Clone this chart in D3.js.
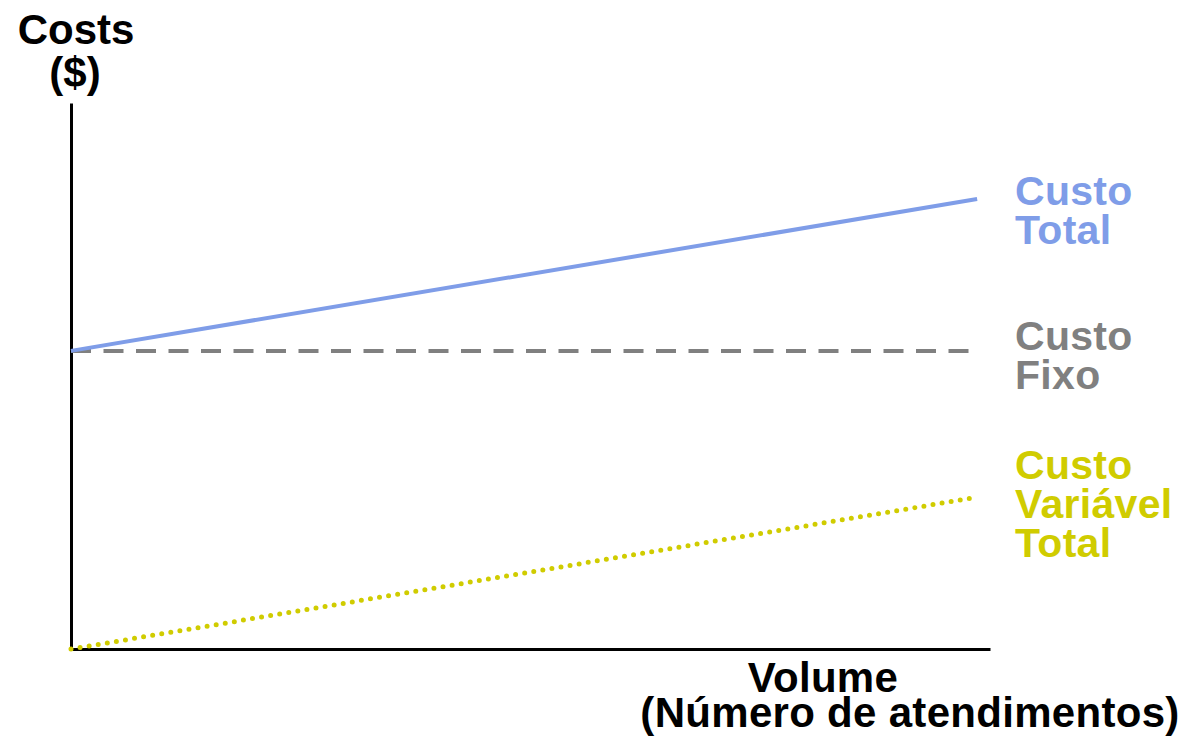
<!DOCTYPE html>
<html><head><meta charset="utf-8">
<script src="https://cdn.jsdelivr.net/npm/d3@7"></script>
<style>html,body{margin:0;padding:0;background:#fff;}svg{display:block;font-family:"Liberation Sans",Arial,sans-serif;font-weight:bold;}</style>
</head><body>
<svg id="c" width="1186" height="737"></svg>
<script>
const volume = [0, 98.6];
const fixedCost = [54.6, 54.6];
const variableCost = [0, 27.8];
const totalCost = [54.6, 82.4];
const seriesNames = [["Custo","Total"],["Custo","Fixo"],["Custo","Variável","Total"]];
const yTitle = ["Costs","($)"];
const xTitle = ["Volume","(Número de atendimentos)"];

const svg = d3.select("#c");
const x = d3.scaleLinear().domain([0,100]).range([71,990]);
const y = d3.scaleLinear().domain([0,100]).range([649,103]);

const line = (vals) => d3.line().x((d,i)=>x(volume[i])).y(d=>y(d))(vals);

// axes
const xAxis = svg.append("g").attr("transform",`translate(0,${y(0)})`).call(d3.axisBottom(x).ticks(0).tickSize(0).tickSizeOuter(0));
xAxis.select(".domain").attr("stroke","#000").attr("stroke-width",3);
const yAxis = svg.append("g").attr("transform",`translate(${x(0)},0)`).call(d3.axisLeft(y).ticks(0).tickSize(0).tickSizeOuter(0));
yAxis.select(".domain").attr("stroke","#000").attr("stroke-width",3);

// lines
svg.append("path").attr("d",line(fixedCost)).attr("fill","none").attr("stroke","#808080").attr("stroke-width",4).attr("stroke-dasharray","20,12.5");
svg.append("path").attr("d",line(totalCost)).attr("fill","none").attr("stroke","#7f9de8").attr("stroke-width",4);
svg.append("path").attr("d",line(variableCost)).attr("fill","none").attr("stroke","#d0cc00").attr("stroke-width",5).attr("stroke-linecap","round").attr("stroke-dasharray","0,9.2");

// series labels (one text element each, lines as tspans)
const labelSpecs = [
  {lines: seriesNames[0], color:"#7f9de8", y0:205},
  {lines: seriesNames[1], color:"#808080", y0:350},
  {lines: seriesNames[2], color:"#d0cc00", y0:479}
];
labelSpecs.forEach(s=>{
  const t = svg.append("text").attr("fill",s.color).attr("font-size",41).attr("letter-spacing",0.3);
  s.lines.forEach((l,i)=>{
    t.append("tspan").attr("x",1015).attr("y",s.y0+i*39).text(l);
  });
});

// axis titles
const yt = svg.append("text").attr("text-anchor","middle").attr("font-size",42);
yt.append("tspan").attr("x",76).attr("y",44).text(yTitle[0]);
yt.append("tspan").attr("x",75).attr("y",87).text(yTitle[1]);
const xt = svg.append("text").attr("text-anchor","middle").attr("font-size",42).attr("letter-spacing",0.3);
xt.append("tspan").attr("x",823).attr("y",692).text(xTitle[0]);
xt.append("tspan").attr("x",910).attr("y",727).text(xTitle[1]);
</script>
</body></html>
